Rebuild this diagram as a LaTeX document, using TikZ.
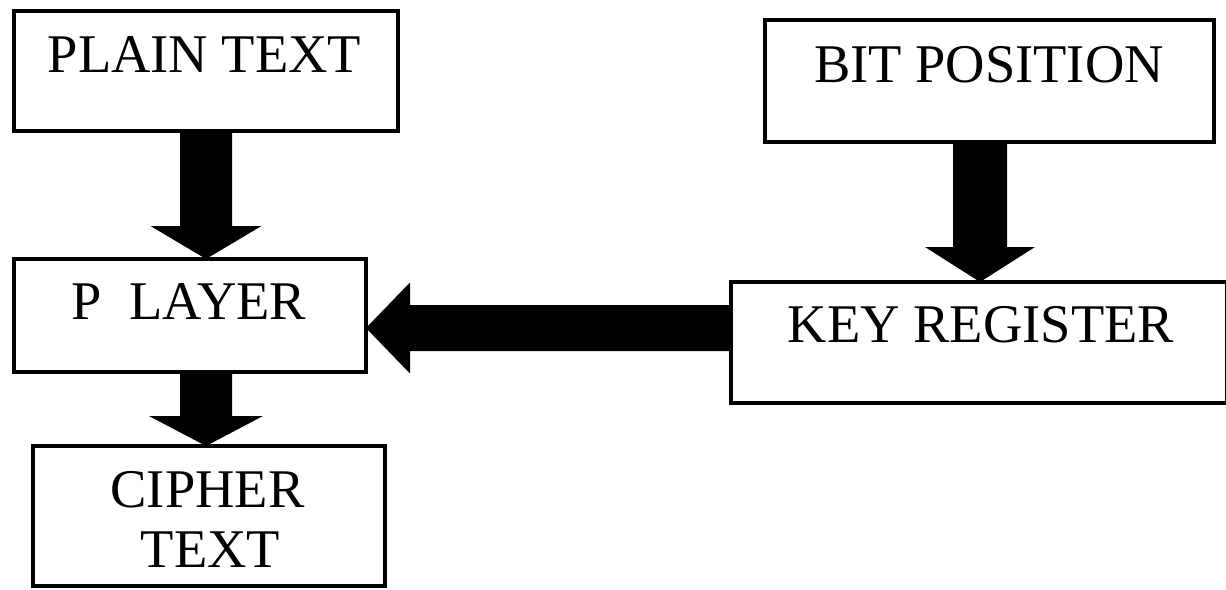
\documentclass[tikz,border=0pt]{standalone}
\usepackage{fontspec}
\setmainfont{Liberation Serif}
\usetikzlibrary{calc}
\newcommand{\fatdown}[5]{%
  \fill let \p1=(#1), \p2=(#2) in
    (\x1-#3,\y1) -- (\x1+#3,\y1) -- (\x1+#3,\y2+#5) -- (\x1+#4,\y2+#5) --
    (\x1,\y2) -- (\x1-#4,\y2+#5) -- (\x1-#3,\y2+#5) -- cycle;}
\newcommand{\fatleft}[5]{%
  \fill let \p1=(#1), \p2=(#2) in
    (\x1,\y1+#3) -- (\x1,\y1-#3) -- (\x2+#5,\y1-#3) -- (\x2+#5,\y1-#4) --
    (\x2,\y1) -- (\x2+#5,\y1+#4) -- (\x2+#5,\y1+#3) -- cycle;}
\begin{document}
\begin{tikzpicture}[x=1pt,y=-1pt,
  boxstyle/.style={draw, line width=4.5pt, inner sep=0pt, outer sep=0pt, anchor=north west},
  lbl/.style={anchor=base, inner sep=0pt, font=\fontsize{54.5pt}{60pt}\selectfont}]
\useasboundingbox (0,0) rectangle (1226,589);
\clip (0,0) rectangle (1226,589);
\fill[white] (0,0) rectangle (1226,589);
% boxes
\node[boxstyle, minimum width=384pt, minimum height=120pt] (plain) at (14,11) {};
\node[boxstyle, minimum width=449pt, minimum height=122pt] (bit) at (765,20) {};
\node[boxstyle, minimum width=352pt, minimum height=113pt] (player) at (14,259) {};
\node[boxstyle, minimum width=496pt, minimum height=121pt] (key) at (731,282) {};
\node[boxstyle, minimum width=352pt, minimum height=140pt] (cipher) at (33,446) {};
% labels
\node[lbl] (tplain) at (204.5,72) {PLAIN TEXT};
\node[lbl] (tbit) at (989,82) {BIT POSITION};
\node[lbl] (tplayer) at (189,319) {P\ \ LAYER};
\node[lbl] (tkey) at (981,342) {KEY REGISTER};
\node[lbl] (tcipher1) at (207.5,507) {CIPHER};
\node[lbl] (tcipher2) at (210.5,567) {TEXT};
% connectors
\coordinate (a1s) at (plain.south);
\coordinate (a1e) at (player.north -| a1s);
\fatdown{a1s}{a1e}{26pt}{55.5pt}{33pt}
\coordinate (a2s) at (player.south -| a1s);
\coordinate (a2e) at (cipher.north -| a1s);
\fatdown{a2s}{a2e}{26pt}{57pt}{30pt}
\coordinate (a3s) at ([xshift=-9.5pt]bit.south);
\coordinate (a3e) at (key.north -| a3s);
\fatdown{a3s}{a3e}{27pt}{55pt}{35pt}
\coordinate (a4s) at ([yshift=14.5pt]key.west);
\coordinate (a4e) at (player.east |- a4s);
\fatleft{a4s}{a4e}{23pt}{45.5pt}{44pt}
\end{tikzpicture}
\end{document}
